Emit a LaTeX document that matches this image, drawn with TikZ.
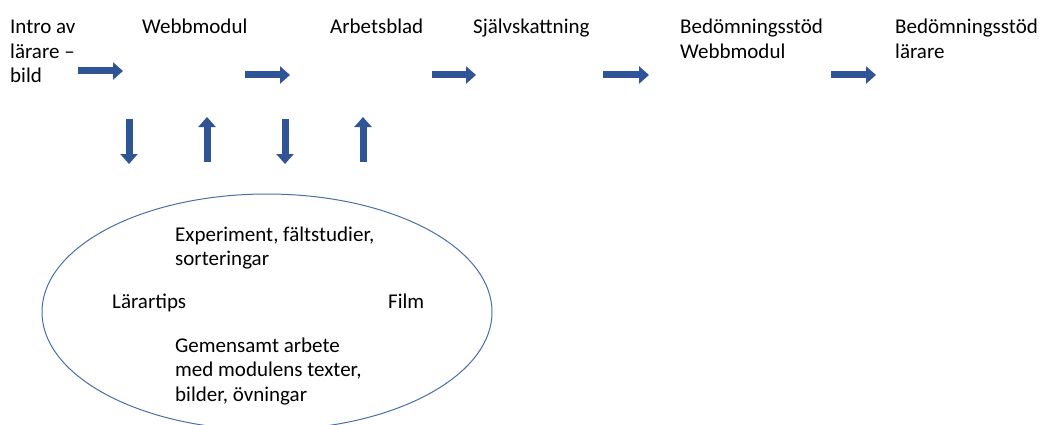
\documentclass[tikz,border=0pt]{standalone}
\usepackage{fontspec}
\setmainfont{Carlito}
\usetikzlibrary{arrows.meta}
\definecolor{arrowblue}{HTML}{2F5597}
\definecolor{ringblue}{HTML}{4A6FA5}
\tikzset{
  label/.style={anchor=base west,inner sep=0pt,align=left,font=\fontsize{21}{24.5}\selectfont},
  blockarrow/.style={draw=arrowblue,line width=7pt,-{Triangle[width=17pt,length=10pt]}}
}
\begin{document}
\begin{tikzpicture}[x=1pt,y=-1pt]
\useasboundingbox (0,0) rectangle (1043,425);
\node[label] (intro) at (10,83) {Intro av\\lärare --\\bild};
\node[label] (webb) at (142,34) {Webbmodul};
\node[label] (arbete) at (330,34) {Arbetsblad};
\node[label] (sjalv) at (473,34) {Självskattning};
\node[label] (bedwebb) at (680,58.5) {Bedömningsstöd\\Webbmodul};
\node[label] (bedlar) at (895,58.5) {Bedömningsstöd\\lärare};
\coordinate (h1a) at (78,71); \coordinate (h1b) at (123,71);
\coordinate (h2a) at (245,75); \coordinate (h2b) at (290,75);
\coordinate (h3a) at (432,75); \coordinate (h3b) at (476,75);
\coordinate (h4a) at (603,75); \coordinate (h4b) at (649,75);
\coordinate (h5a) at (831,75); \coordinate (h5b) at (876,75);
\draw[blockarrow] (h1a) -- (h1b);
\draw[blockarrow] (h2a) -- (h2b);
\draw[blockarrow] (h3a) -- (h3b);
\draw[blockarrow] (h4a) -- (h4b);
\draw[blockarrow] (h5a) -- (h5b);
\coordinate (v1a) at (129,119); \coordinate (v1b) at (129,164);
\coordinate (v2a) at (207,162); \coordinate (v2b) at (207,117);
\coordinate (v3a) at (285,119); \coordinate (v3b) at (285,164);
\coordinate (v4a) at (363,162); \coordinate (v4b) at (363,117);
\draw[blockarrow] (v1a) -- (v1b);
\draw[blockarrow] (v2a) -- (v2b);
\draw[blockarrow] (v3a) -- (v3b);
\draw[blockarrow] (v4a) -- (v4b);
\draw[ringblue,line width=1pt] (267,312) ellipse [x radius=225,y radius=118];
\node[label] (exp) at (175,265.5) {Experiment, fältstudier,\\sorteringar};
\node[label] (tips) at (112,308) {Lärartips};
\node[label] (film) at (388,308) {Film};
\node[label] (gem) at (175,401) {Gemensamt arbete\\med modulens texter,\\bilder, övningar};
\end{tikzpicture}
\end{document}
